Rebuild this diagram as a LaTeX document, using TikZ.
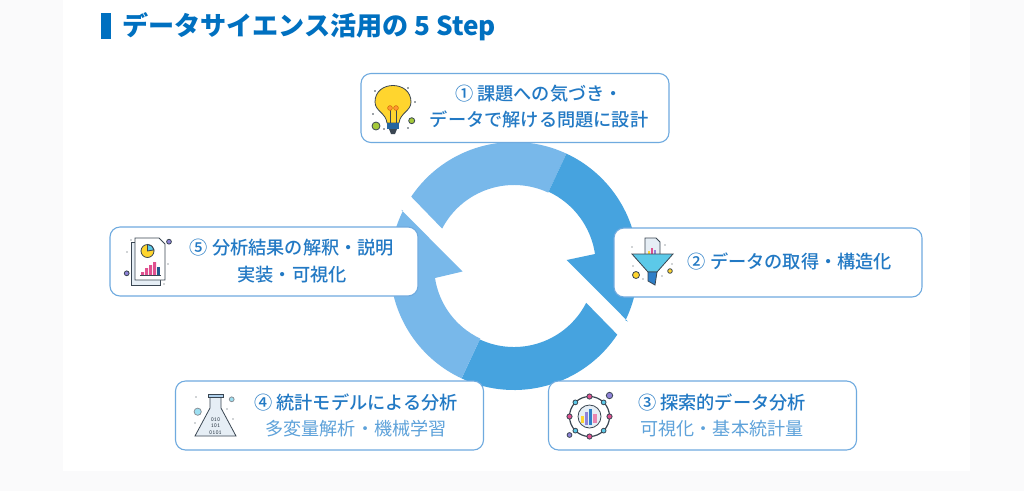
\documentclass[tikz,border=0pt]{standalone}
\usepackage{fontspec}
\usepackage{tikz}
\usetikzlibrary{calc,positioning}
\newfontfamily\cjk[BoldFont={Noto Sans CJK JP Medium}]{Noto Sans CJK JP}
\newfontfamily\cjkhead{Noto Sans CJK JP}
\definecolor{page}{HTML}{FAFAFB}
\definecolor{boxline}{HTML}{6FAADF}
\definecolor{ringlite}{HTML}{78B8EA}
\definecolor{ringdark}{HTML}{46A3DF}
\definecolor{titleblue}{HTML}{0070C0}
\definecolor{stepblue}{HTML}{2279C4}
\definecolor{subblue}{HTML}{5EA2DA}
\definecolor{iconline}{HTML}{3A4652}
\definecolor{iconyellow}{HTML}{FFD52E}
\definecolor{iconpink}{HTML}{E0508F}
\definecolor{iconcyan}{HTML}{5CC9E8}
\definecolor{iconblue}{HTML}{2F7FC8}
\definecolor{iconpurple}{HTML}{8F83D8}
\definecolor{icongreen}{HTML}{A5C93A}
\definecolor{iconpale}{HTML}{E6EEF5}
\tikzset{
  stepbox/.style={rounded corners=10pt,fill=white,draw=boxline,line width=1.1pt,minimum width=308pt,minimum height=69pt,inner sep=0pt},
  steptext/.style={font=\cjk\fontsize{18.2}{26.5}\selectfont\bfseries,text=stepblue,align=center,inner sep=0pt},
  subtext/.style={font=\cjk\fontsize{18.1}{22}\selectfont,text=subblue,align=center,inner sep=0pt},
  iconstroke/.style={draw=iconline,line width=0.8pt},
}
\begin{document}
\begin{tikzpicture}[x=1pt,y=-1pt]
  \useasboundingbox (0,0) rectangle (1024,491);
  \fill[page] (0,0) rectangle (1024,491);
  \fill[white] (63,0) rectangle (970,471);
  % title
  \fill[titleblue] (101,13) rectangle (111,39);
  \node[anchor=west,inner sep=0pt,text=titleblue,font=\cjkhead\fontsize{26.1}{30}\selectfont\bfseries] (title) at (122,27) {データサイエンス活用の 5 Step};
  % ring
  \begin{scope}[shift={(514,266)}]
    \fill[ringlite] (146:124pt) arc[start angle=146,end angle=65,radius=124pt] -- (65:81pt) arc[start angle=65,end angle=152.5,radius=81pt] -- cycle;
    \fill[ringdark] (65:124pt) arc[start angle=65,end angle=-26,radius=124pt] -- (-26:127pt) -- (52.7pt,6pt) -- (81pt,12pt) arc[start angle=8.4,end angle=65,radius=81.9pt] -- cycle;
    \fill[ringdark] (245:124pt) arc[start angle=245,end angle=326.4,radius=124pt] -- (-27:81pt) arc[start angle=-27,end angle=-115,radius=81pt] -- cycle;
    \fill[ringlite] (245:124pt) arc[start angle=245,end angle=153.5,radius=124pt] -- (153.5:126pt) -- (-51.5pt,-5.5pt) -- (-79pt,-12pt) arc[start angle=188.6,end angle=245,radius=80pt] -- cycle;
  \end{scope}
  % boxes
  \node[stepbox] (s1) at (515,108) {};
  \node[stepbox] (s2) at (768,262.5) {};
  \node[stepbox] (s3) at (702.5,415.5) {};
  \node[stepbox] (s4) at (329.5,415.5) {};
  \node[stepbox] (s5) at (264,261.5) {};
  \node[steptext] (t1) at (539,106.5) {① 課題への気づき・\\データで解ける問題に設計};
  \node[steptext] (t2) at (790,261) {② データの取得・構造化};
  \node[steptext] (t3) at (722,402) {③ 探索的データ分析};
  \node[subtext] (u3) at (722,429) {可視化・基本統計量};
  \node[steptext] (t4) at (356,402) {④ 統計モデルによる分析};
  \node[subtext] (u4) at (356,429) {多変量解析・機械学習};
  \node[steptext] (t5) at (292,261) {⑤ 分析結果の解釈・説明\\実装・可視化};
  % bulb
  \draw[iconstroke,fill=iconyellow] (387,123) .. controls (386,113) and (375,111) .. (375,102) .. controls (375,80) and (411,80) .. (411,102) .. controls (411,111) and (400,113) .. (399,123) -- cycle;
  \draw[iconline,line width=0.5pt] (390,110) -- (390,123) (396,110) -- (396,123);
  \draw[draw=orange!80!black,line width=0.5pt,fill=orange!80] (390,108) circle (2.4pt) (396,108) circle (2.4pt);
  \fill[iconblue!80!black] (387,123) rectangle (399,129);
  \fill[iconline] (389,129) -- (397,129) -- (395,134) -- (391,134) -- cycle;
  \draw[iconstroke,fill=icongreen] (376,126) circle (4pt) (411.7,120.7) circle (3pt);
  \fill[iconline] (375,91) circle (0.8pt) (408,88) circle (0.8pt) (415,102) circle (0.8pt) (373,114) circle (0.8pt) (384,129) circle (0.8pt) (408,128) circle (0.8pt);
  % funnel
  \draw[iconstroke,fill=iconpale] (645,238) -- (656,238) -- (660,242) -- (660,258) -- (645,258) -- cycle;
  \fill[iconyellow] (648,251) rectangle (650,256);
  \fill[iconpink] (651,248) rectangle (653,256);
  \fill[iconpurple] (654,250) rectangle (656,256);
  \draw[iconstroke,fill=iconcyan] (632,254) -- (673,254) -- (657,272) -- (648,272) -- cycle;
  \draw[iconstroke,fill=iconblue] (648,272) -- (657,272) -- (655,285) -- (648,281) -- cycle;
  \draw[iconstroke,fill=iconyellow] (636,275) circle (3.5pt) (670,271) circle (2.3pt);
  \fill[iconline] (632,247) circle (0.7pt) (665,245) circle (0.7pt) (633,266) circle (0.7pt) (672,264) circle (0.7pt) (643,279) circle (0.7pt) (662,276) circle (0.7pt);
  % network
  \draw[iconstroke,line width=1.2pt] (589.5,416.5) circle (20pt);
  \draw[iconstroke,fill=iconpale] (589.5,416.5) circle (11.5pt);
  \foreach \ang in {0,90,180,270}
    \draw[iconstroke,fill=iconpink] ($(589.5,416.5)+(\ang:20pt)$) circle (2.6pt);
  \foreach \ang in {45,135,225,315}
    \draw[iconstroke,fill=iconcyan] ($(589.5,416.5)+(\ang:20pt)$) circle (2.4pt);
  \fill[iconyellow] (581,416) rectangle (584,423);
  \fill[iconpurple] (585,412) rectangle (588,425);
  \fill[iconblue] (589,409) rectangle (592,425);
  \fill[iconpink!70] (593,414) rectangle (597,423);
  \draw[iconstroke,fill=iconpurple] (609.5,395.5) circle (3.2pt) (569.5,435) circle (2.4pt);
  % flask
  \draw[iconstroke,fill=iconpale] (210,395) -- (221,395) -- (221,408) -- (236,436) -- (195,436) -- (210,408) -- cycle;
  \draw[iconstroke,fill=subblue!50] (208,394) rectangle (223,397);
  \node[inner sep=0pt,align=center,text=iconline,font=\ttfamily\bfseries\fontsize{6}{6.8}\selectfont] (bits) at (215.5,426) {010\\101\\0101};
  \draw[iconstroke,draw=iconline!60,fill=iconcyan!60] (197.7,411.7) circle (3.6pt) (231.7,399.3) circle (2.4pt);
  \fill[iconline] (196,397) circle (0.7pt) (227,409) circle (0.7pt) (233,419) circle (0.7pt) (195,423) circle (0.7pt);
  % report
  \draw[iconstroke,fill=iconpale] (131.5,242) rectangle (160,285);
  \draw[iconstroke,fill=white] (135,238) -- (159,238) -- (165,244) -- (165,280) -- (135,280) -- cycle;
  \draw[iconstroke,fill=iconyellow] (147.5,251) circle (6.5pt);
  \draw[iconstroke,fill=iconcyan] (147.5,251) -- (147.5,244.5) arc[start angle=90,end angle=10,radius=6.5pt] -- cycle;
  \fill[iconpink] (141,272) rectangle (144,275) (145,268) rectangle (148,275) (149,265) rectangle (152,275) (153,262) rectangle (156,275);
  \fill[iconblue!70!black] (157,267) rectangle (160,275);
  \draw[iconline,line width=0.6pt] (140,275.5) -- (161,275.5);
  \draw[iconstroke,fill=iconpurple] (169,241.7) circle (2.4pt) (126.7,273.3) circle (2.4pt);
  \fill[iconline] (127,252) circle (0.7pt) (131,240) circle (0.7pt) (168,264) circle (0.7pt) (164,284) circle (0.7pt);
\end{tikzpicture}
\end{document}
